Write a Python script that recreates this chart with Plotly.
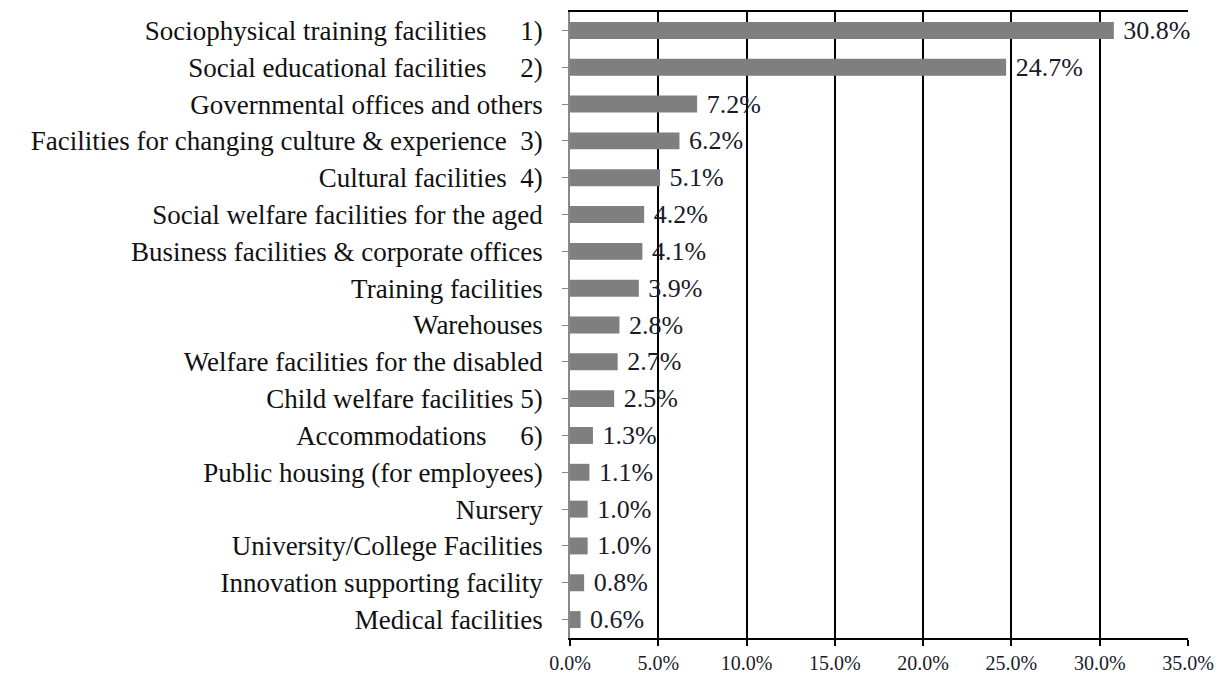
import plotly.graph_objects as go

NB = "\u00a0"
categories = [
    "Sociophysical training facilities" + NB*5 + "1)",
    "Social educational facilities" + NB*5 + "2)",
    "Governmental offices and others",
    "Facilities for changing culture & experience" + NB*2 + "3)",
    "Cultural facilities" + NB*2 + "4)",
    "Social welfare facilities for the aged",
    "Business facilities & corporate offices",
    "Training facilities",
    "Warehouses",
    "Welfare facilities for the disabled",
    "Child welfare facilities 5)",
    "Accommodations" + NB*5 + "6)",
    "Public housing (for employees)",
    "Nursery",
    "University/College Facilities",
    "Innovation supporting facility",
    "Medical facilities",
]
values = [30.8, 24.7, 7.2, 6.2, 5.1, 4.2, 4.1, 3.9, 2.8, 2.7, 2.5, 1.3, 1.1, 1.0, 1.0, 0.8, 0.6]
tick_vals = [0, 5, 10, 15, 20, 25, 30, 35]
tick_text = ["0.0%", "5.0%", "10.0%", "15.0%", "20.0%", "25.0%", "30.0%", "35.0%"]

font = "Liberation Serif, Times New Roman, serif"

fig = go.Figure(go.Bar(
    x=values,
    y=categories,
    orientation="h",
    marker=dict(color="#7f7f7f", line=dict(width=0)),
    text=[NB + f"{v:.1f}%" for v in values],
    textposition="outside",
    constraintext="none",
    textfont=dict(family=font, size=26, color="#1a1a2a"),
    cliponaxis=False,
))

fig.update_layout(
    width=1210, height=666,
    margin=dict(l=562, r=30, t=4, b=36, autoexpand=False),
    paper_bgcolor="white", plot_bgcolor="white",
    bargap=0.54,
    showlegend=False,
    font=dict(family=font),
)
fig.update_xaxes(
    range=[0, 35], tickvals=tick_vals, ticktext=tick_text,
    showgrid=True, gridcolor="black", gridwidth=1.5,
    showline=True, linecolor="black", linewidth=1.5, mirror=True,
    ticks="outside", ticklen=6, tickcolor="black", tickwidth=1.5,
    tickfont=dict(family=font, size=20, color="#1a1a2a"),
    zeroline=False, fixedrange=True, automargin=False,
    ticklabeloverflow="allow", ticklabelstandoff=0,
)
fig.update_yaxes(
    categoryorder="array", categoryarray=categories[::-1],
    showline=True, linecolor="#888888", linewidth=1.5,
    ticks="outside", ticklen=6, tickcolor="#888888",
    tickfont=dict(family=font, size=27, color="#111111"),
    showgrid=False, ticklabelstandoff=14, automargin=False,
)
fig.write_html("out.html")
